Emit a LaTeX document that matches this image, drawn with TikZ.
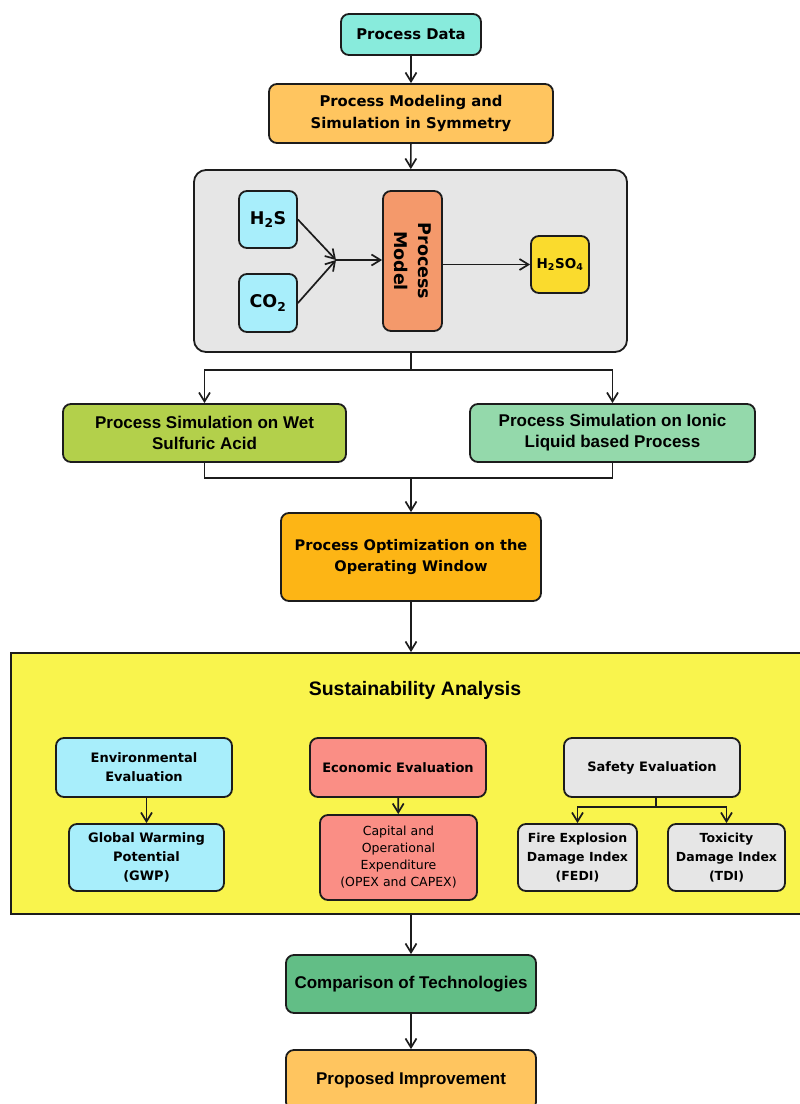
\documentclass[tikz,border=0pt]{standalone}
\usepackage{fontspec}
\setmainfont{DejaVu Sans}
\newfontfamily\arialfont{Liberation Sans}
\usetikzlibrary{arrows.meta}

\definecolor{linecol}{HTML}{1C1C1C}
\definecolor{datacol}{HTML}{88EBDC}
\definecolor{modcol}{HTML}{FFC55F}
\definecolor{simgray}{HTML}{E6E6E6}
\definecolor{gascol}{HTML}{A8EEFB}
\definecolor{pmcol}{HTML}{F4996B}
\definecolor{acidcol}{HTML}{FADB2D}
\definecolor{wetcol}{HTML}{B3D04B}
\definecolor{ioniccol}{HTML}{94D9AB}
\definecolor{optcol}{HTML}{FDB515}
\definecolor{sustcol}{HTML}{F9F44D}
\definecolor{ecocol}{HTML}{FA8E85}
\definecolor{compcol}{HTML}{62BE86}

\begin{document}
\begin{tikzpicture}[x=1pt,y=-1pt,
    blk/.style={draw=linecol,line width=1.8pt,rounded corners=8pt,align=center,inner sep=1pt},
    ftop/.style={font=\bfseries\fontsize{14.8}{22}\selectfont},
    farial/.style={font=\arialfont\bfseries\fontsize{17}{21}\selectfont},
    fsub/.style={font=\bfseries\fontsize{13}{19}\selectfont},
    arr/.style={draw=linecol,line width=1.7pt,-{Straight Barb[length=9pt,width=11pt]}},
    ln/.style={draw=linecol,line width=1.7pt}]
  \useasboundingbox (0,0) rectangle (800,1104);

  \node[blk,ftop,fill=datacol,minimum width=140pt,minimum height=41pt] (data) at (411,34.5) {Process Data};
  \node[blk,ftop,fill=modcol,minimum width=284pt,minimum height=59pt] (modsim) at (411,113.5)
    {Process Modeling and\\Simulation in Symmetry};

  % symmetry model block
  \node[blk,fill=simgray,rounded corners=12pt,minimum width=433pt,minimum height=182pt] (sim) at (410.5,261) {};
  \node[blk,fill=gascol,font=\bfseries\fontsize{17.5}{20}\selectfont,minimum width=58pt,minimum height=57pt] (h2s) at (268,219.5)
    {H\textsubscript{2}S};
  \node[blk,fill=gascol,font=\bfseries\fontsize{17.5}{20}\selectfont,minimum width=58pt,minimum height=58pt] (co2) at (268,303)
    {CO\textsubscript{2}};
  \node[blk,fill=pmcol,rotate=-90,font=\bfseries\fontsize{17.5}{24}\selectfont,minimum width=140pt,minimum height=59pt] (pm) at (412.5,261)
    {Process\\Model};
  \node[blk,fill=acidcol,font=\bfseries\fontsize{13.5}{16}\selectfont,minimum width=58pt,minimum height=57pt] (acid) at (560,264.5)
    {H\textsubscript{2}SO\textsubscript{4}};
  \coordinate (feed) at (336,260);

  \node[blk,farial,fill=wetcol,minimum width=283pt,minimum height=58pt] (wsa) at (204.5,433)
    {Process Simulation on Wet\\Sulfuric Acid};
  \node[blk,farial,fill=ioniccol,minimum width=285pt,minimum height=58pt] (ionic) at (612.5,433)
    {Process Simulation on Ionic\\Liquid based Process};
  \coordinate (split) at (411,370);
  \coordinate (merge) at (411,478);

  \node[blk,font=\bfseries\fontsize{14.6}{21}\selectfont,fill=optcol,minimum width=260pt,minimum height=88pt] (opt) at (411,557)
    {Process Optimization on the\\Operating Window};

  % sustainability analysis
  \node[draw=linecol,line width=1.8pt,fill=sustcol,minimum width=794pt,minimum height=261pt,inner sep=0pt] (sust) at (408,783.5) {};
  \node[font=\arialfont\bfseries\fontsize{19.5}{22}\selectfont] (susttitle) at (415,690) {Sustainability Analysis};

  \node[blk,fsub,fill=gascol,minimum width=176pt,minimum height=59pt] (env) at (144,767.5) {Environmental\\Evaluation};
  \node[blk,fsub,fill=gascol,minimum width=155pt,minimum height=67pt] (gwp) at (146.5,857.5) {Global Warming\\Potential\\(GWP)};
  \node[blk,fsub,fill=ecocol,minimum width=176pt,minimum height=59pt] (eco) at (398,767.5) {Economic Evaluation};
  \node[blk,fill=ecocol,font=\fontsize{12.5}{17}\selectfont,minimum width=157pt,minimum height=85pt] (capex) at (398.5,857.5)
    {Capital and\\Operational\\Expenditure\\(OPEX and CAPEX)};
  \node[blk,fsub,fill=simgray,minimum width=176pt,minimum height=59pt] (safe) at (652,767.5) {Safety Evaluation};
  \node[blk,fill=simgray,font=\bfseries\fontsize{12.5}{19}\selectfont,minimum width=119pt,minimum height=67pt] (fedi) at (577.5,857.5)
    {Fire Explosion\\Damage Index\\(FEDI)};
  \node[blk,fill=simgray,font=\bfseries\fontsize{12.5}{19}\selectfont,minimum width=117pt,minimum height=67pt] (tdi) at (726.5,857.5)
    {Toxicity\\Damage Index\\(TDI)};
  \coordinate (safej) at (656,807);

  \node[blk,farial,fill=compcol,minimum width=250pt,minimum height=58pt] (comp) at (411,984) {Comparison of Technologies};
  \node[blk,farial,fill=modcol,minimum width=250pt,minimum height=60pt] (prop) at (411,1080) {Proposed Improvement};

  \draw[arr] (data) -- (modsim);
  \draw[arr] (modsim) -- (sim);
  \draw[arr] (h2s.east) -- (feed);
  \draw[arr] (co2.east) -- (feed);
  \draw[arr] (feed) -- (feed -| pm.south);
  \draw[arr] (pm.north |- acid.west) -- (acid.west);

  \draw[ln] (sim.south -| split) -- (split);
  \draw[arr] (split) -| (wsa.north);
  \draw[arr] (split) -| (ionic.north);
  \draw[ln] (wsa.south) |- (merge) -| (ionic.south);
  \draw[arr] (merge) -- (merge |- opt.north);
  \draw[arr] (opt.south) -- (opt.south |- sust.north);

  \draw[arr] (gwp.north |- env.south) -- (gwp.north);
  \draw[arr] (eco) -- (capex);
  \draw[ln] (safej |- safe.south) -- (safej);
  \draw[arr] (safej) -| (fedi.north);
  \draw[arr] (safej) -| (tdi.north);

  \draw[arr] (comp.north |- sust.south) -- (comp.north);
  \draw[arr] (comp) -- (prop);
\end{tikzpicture}
\end{document}
